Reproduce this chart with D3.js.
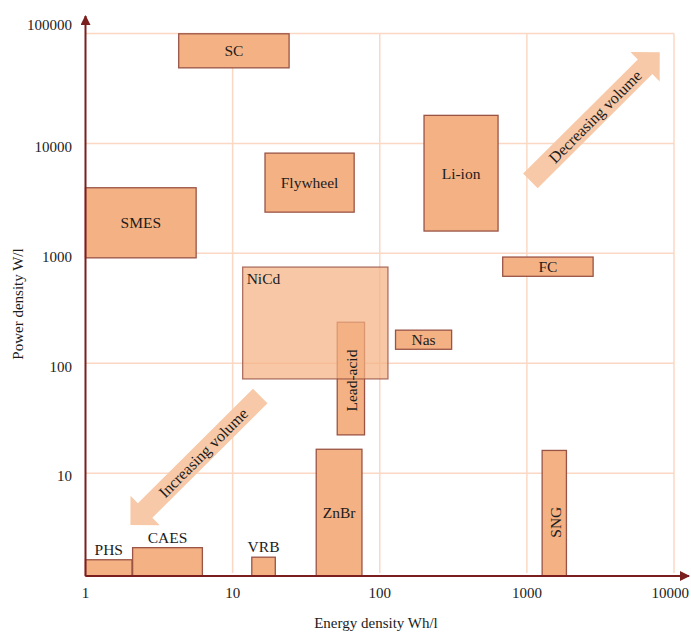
<!DOCTYPE html>
<html>
<head>
<meta charset="utf-8">
<script src="https://cdn.jsdelivr.net/npm/d3@7"></script>
<style>
  html, body { margin: 0; padding: 0; background: #fff; }
  svg { display: block; }
  text { font-family: "Liberation Serif", "DejaVu Serif", serif; fill: #1c1c1c; }
</style>
</head>
<body>
<svg id="chart" width="691" height="633"></svg>
<script>
// Storage technologies: energy density (Wh/l) and power density (W/l) ranges
const techNames  = ["SC", "SMES", "Flywheel", "Li-ion", "FC", "Lead-acid", "NiCd", "Nas", "ZnBr", "SNG", "PHS", "CAES", "VRB"];
const energyMin  = [4.3, 1, 16.6, 200, 685, 51.4, 11.7, 128, 37, 1270, 1, 2.09, 13.5];
const energyMax  = [24.2, 5.65, 67, 637, 2820, 78.8, 113.7, 308, 75.7, 1857, 2.07, 6.23, 19.5];
const powerMin   = [48700, 910, 2370, 1595, 618, 22.3, 72, 134, 1.16, 1.16, 1.16, 1.16, 1.16];
const powerMax   = [99400, 3950, 8160, 18000, 925, 236, 750, 200, 16.5, 16.1, 1.63, 2.1, 1.72];

// Axis ticks
const xTicks = [1, 10, 100, 1000, 10000];
const yTicks = [10, 100, 1000, 10000, 100000];
const xTickLabels = ["1", "10", "100", "1000", "10000"];
const yTickLabels = ["10", "100", "1000", "10000", "100000"];

// Trend arrows: [tail energy, tail power] -> [tip energy, tip power]
const arrowLabels = ["Decreasing volume", "Increasing volume"];
const arrowTails  = [[1057, 4560], [15.4, 50.4]];
const arrowTips   = [[8000, 67600], [2.02, 3.37]];

const svg = d3.select("#chart");
const x = d3.scaleLog().domain([1, 10000]).range([85.5, 674]);
const y = d3.scaleLog().domain([1.16, 100000]).range([576, 33.5]);

const axisColor = "#7a1e1e";
const gridColor = "#fbd8c3";
const boxFill = "#f4b183";
const boxStroke = "#9a5446";

// grid
const grid = svg.append("g");
grid.selectAll("line.h").data(yTicks).join("line")
  .attr("x1", x(1)).attr("x2", x(10000))
  .attr("y1", d => y(d)).attr("y2", d => y(d))
  .attr("stroke", gridColor).attr("stroke-width", 1.5);
grid.selectAll("line.v").data(xTicks.slice(1)).join("line")
  .attr("x1", d => x(d)).attr("x2", d => x(d))
  .attr("y1", y(100000)).attr("y2", y(1.16) - 3)
  .attr("stroke", gridColor).attr("stroke-width", 1.5);

// arrows
function arrowPath(tail, tip) {
  const t = [x(tail[0]), y(tail[1])];
  const p = [x(tip[0]), y(tip[1])];
  const dx = p[0] - t[0], dy = p[1] - t[1];
  const len = Math.hypot(dx, dy);
  const ux = dx / len, uy = dy / len;
  const nx = -uy, ny = ux;
  const shaftHalf = 10.3, headHalf = 20.7, headLen = 20.7;
  const bx = p[0] - ux * headLen, by = p[1] - uy * headLen;
  const pts = [
    [t[0] + nx * shaftHalf, t[1] + ny * shaftHalf],
    [bx + nx * shaftHalf, by + ny * shaftHalf],
    [bx + nx * headHalf, by + ny * headHalf],
    p,
    [bx - nx * headHalf, by - ny * headHalf],
    [bx - nx * shaftHalf, by - ny * shaftHalf],
    [t[0] - nx * shaftHalf, t[1] - ny * shaftHalf]
  ];
  return "M" + pts.map(q => q.join(",")).join("L") + "Z";
}
const labelAlong = [0.5, 0.44];
const arrows = svg.append("g");
arrowLabels.forEach((lbl, i) => {
  arrows.append("path").attr("d", arrowPath(arrowTails[i], arrowTips[i]))
    .attr("fill", "#f7c9a8");
  const t = [x(arrowTails[i][0]), y(arrowTails[i][1])];
  const p = [x(arrowTips[i][0]), y(arrowTips[i][1])];
  const f = labelAlong[i];
  const cx = t[0] + (p[0] - t[0]) * f, cy = t[1] + (p[1] - t[1]) * f;
  arrows.append("text").attr("transform", `translate(${cx},${cy}) rotate(-45)`)
    .attr("text-anchor", "middle").attr("dy", "0.35em")
    .attr("font-size", 16).text(lbl);
});

// boxes
const data = techNames.map((n, i) => ({
  name: n, x0: energyMin[i], x1: energyMax[i], y0: powerMin[i], y1: powerMax[i]
}));
const order = data.filter(d => d.name !== "NiCd").concat(data.filter(d => d.name === "NiCd"));
svg.append("g").selectAll("rect").data(order).join("rect")
  .attr("x", d => x(d.x0)).attr("width", d => x(d.x1) - x(d.x0))
  .attr("y", d => y(d.y1)).attr("height", d => y(d.y0) - y(d.y1))
  .attr("fill", boxFill).attr("fill-opacity", d => d.name === "NiCd" ? 0.72 : 1)
  .attr("stroke", boxStroke).attr("stroke-opacity", d => d.name === "NiCd" ? 0.8 : 1)
  .attr("stroke-width", 1.3);

// box labels
const labels = svg.append("g").attr("font-size", 15.5);
data.forEach(d => {
  const cx = (x(d.x0) + x(d.x1)) / 2, cy = (y(d.y0) + y(d.y1)) / 2;
  const t = labels.append("text");
  if (d.name === "Lead-acid" || d.name === "SNG") {
    t.attr("transform", `translate(${cx + 1},${d.name === "SNG" ? cy + 9 : cy + 2}) rotate(-90)`)
      .attr("text-anchor", "middle").attr("dy", "0.35em");
  } else if (d.name === "NiCd") {
    t.attr("x", x(d.x0) + 4).attr("y", y(d.y1) + 17);
  } else if (["PHS", "CAES", "VRB"].includes(d.name)) {
    t.attr("x", cx).attr("y", y(d.y1) - 5).attr("text-anchor", "middle");
  } else {
    t.attr("x", cx).attr("y", cy).attr("text-anchor", "middle").attr("dy", "0.35em");
  }
  t.text(d.name);
});

// axes
const defs = svg.append("defs");
defs.append("marker").attr("id", "ah").attr("viewBox", "0 0 10 10")
  .attr("refX", 9).attr("refY", 5).attr("markerWidth", 5).attr("markerHeight", 5)
  .attr("orient", "auto").attr("markerUnits", "strokeWidth")
  .append("path").attr("d", "M0,0L10,5L0,10Z").attr("fill", axisColor);
svg.append("line").attr("x1", x(1)).attr("x2", x(1)).attr("y1", y(1.16)).attr("y2", 16)
  .attr("stroke", axisColor).attr("stroke-width", 2).attr("marker-end", "url(#ah)");
svg.append("line").attr("x1", x(1)).attr("x2", 689).attr("y1", y(1.16)).attr("y2", y(1.16))
  .attr("stroke", axisColor).attr("stroke-width", 2).attr("marker-end", "url(#ah)");

// tick labels (the last x label is kept inside the right edge)
const lastX = xTicks[xTicks.length - 1];
svg.append("g").selectAll("text").data(xTicks).join("text")
  .attr("x", d => d === lastX ? 689 : x(d)).attr("y", 598)
  .attr("text-anchor", d => d === lastX ? "end" : "middle")
  .attr("font-size", 15).text((d, i) => xTickLabels[i]);
svg.append("g").selectAll("text").data(yTicks).join("text")
  .attr("x", 72).attr("y", d => y(d) + (d === 100000 ? -9 : 3)).attr("dy", "0.35em")
  .attr("text-anchor", "end").attr("font-size", 15).text((d, i) => yTickLabels[i]);

// axis titles
svg.append("text").attr("x", 376).attr("y", 628).attr("text-anchor", "middle")
  .attr("font-size", 15).text("Energy density Wh/l");
svg.append("text").attr("transform", "translate(23,304) rotate(-90)")
  .attr("text-anchor", "middle").attr("font-size", 15).text("Power density W/l");
</script>
</body>
</html>
